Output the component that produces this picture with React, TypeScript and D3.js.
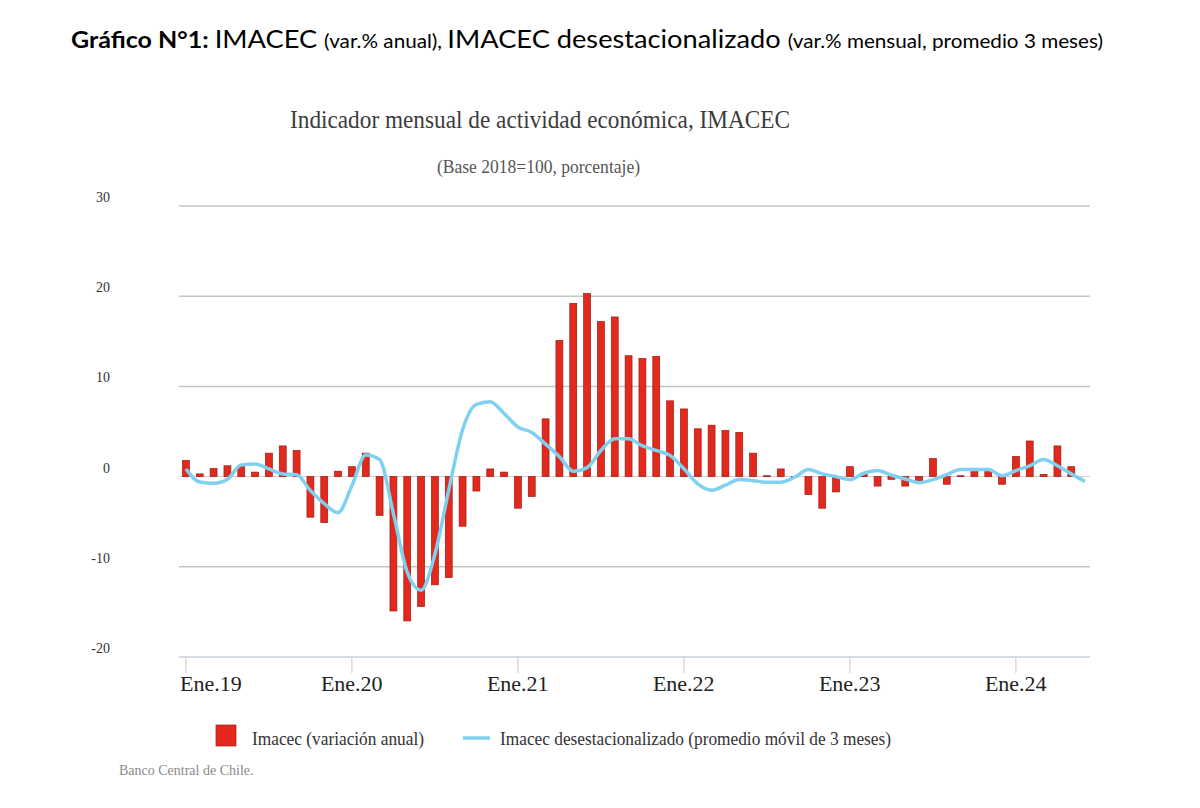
import React from "react";
import * as d3 from "d3";

// meses Ene.19 .. Jun.24
const years = ["19", "20", "21", "22", "23", "24"];
const monthNames = ["Ene", "Feb", "Mar", "Abr", "May", "Jun", "Jul", "Ago", "Sep", "Oct", "Nov", "Dic"];
const months: string[] = [];
years.forEach((yy) => monthNames.forEach((m) => months.push(`${m}.${yy}`)));
const categories = months.slice(0, 66);

// Imacec variación anual (barras)
const imacecAnual = [
  1.8, 0.3, 0.9, 1.2, 1.1, 0.5, 2.6, 3.4, 2.9, -4.5, -5.1, 0.6,
  1.1, 2.6, -4.3, -14.9, -16.0, -14.4, -12.0, -11.2, -5.5, -1.6, 0.85, 0.5,
  -3.5, -2.2, 6.4, 15.1, 19.2, 20.3, 17.2, 17.7, 13.4, 13.1, 13.3, 8.4,
  7.5, 5.3, 5.7, 5.1, 4.9, 2.6, 0.1, 0.85, -0.05, -2.0, -3.5, -1.7,
  1.1, 0.3, -1.05, -0.3, -1.05, -0.45, 2.0, -0.85, 0.1, 0.55, 0.55, -0.85,
  2.25, 3.95, 0.25, 3.4, 1.1,
];

// Imacec desestacionalizado, promedio móvil 3 meses (línea)
const imacecDesest = [
  0.85, -0.6, -0.75, -0.3, 1.3, 1.4, 0.85, 0.3, 0.2, -1.55, -3.0, -4.0,
  -1.0, 2.4, 1.9, -4.1, -10.6, -12.6, -8.6, -1.5, 5.2, 8.0, 8.3, 7.0,
  5.5, 4.9, 3.6, 2.2, 0.6, 1.0, 2.9, 4.2, 4.2, 3.4, 2.9, 2.35,
  0.86, -0.8, -1.5, -0.95, -0.33, -0.45, -0.63, -0.63, -0.07, 0.78, 0.3, 0.0,
  -0.33, 0.37, 0.67, 0.15, -0.26, -0.67, -0.33, 0.22, 0.8, 0.78, 0.78, 0.1,
  0.67, 1.2, 1.9, 1.2, 0.3, -0.55,
];

const yTicks = [30, 20, 10, 0, -10, -20];
const xTickLabels = ["Ene.19", "Ene.20", "Ene.21", "Ene.22", "Ene.23", "Ene.24"];

const serif = "'Liberation Serif', 'Times New Roman', serif";

export default function App() {
  const width = 1200;
  const height = 808;
  const left = 179;
  const right = 1092;

  const x = d3.scaleBand<string>().domain(categories).range([left, right]).paddingInner(0.5).paddingOuter(0.25);
  const cx = (c: string) => (x(c) as number) + x.bandwidth() / 2;
  const y = d3.scaleLinear().domain([-20, 30]).range([657, 206]);

  const line = d3
    .line<number>()
    .x((_, i) => cx(categories[i]))
    .y((d) => y(d))
    .curve(d3.curveMonotoneX);

  return (
    <svg
      width={width}
      height={height}
      style={{ position: "absolute", left: 0, top: 0, background: "#fff" }}
    >
      <rect width={width} height={height} fill="#fff" />

      {/* titulo superior */}
      <text x={71} y={48} textLength={1032} lengthAdjust="spacingAndGlyphs" fill="#000" style={{ fontFamily: "Lato, 'Open Sans', sans-serif" }}>
        <tspan fontWeight="bold" fontSize={23}>Gráfico N°1: </tspan>
        <tspan fontSize={25}>IMACEC </tspan>
        <tspan fontSize={19}>(var.% anual), </tspan>
        <tspan fontSize={25}>IMACEC desestacionalizado </tspan>
        <tspan fontSize={19}>(var.% mensual, promedio 3 meses)</tspan>
      </text>

      <text x={290} y={128} fontSize={25} textLength={500} lengthAdjust="spacingAndGlyphs" fill="#3c3c3c" style={{ fontFamily: serif }}>
        Indicador mensual de actividad económica, IMACEC
      </text>
      <text x={437} y={173} fontSize={19} textLength={203} lengthAdjust="spacingAndGlyphs" fill="#555" style={{ fontFamily: serif }}>
        (Base 2018=100, porcentaje)
      </text>

      {/* grilla */}
      {yTicks.map((t) => (
        <g key={t}>
          {t !== 0 && t !== -20 && (
            <line x1={left} x2={1090} y1={y(t)} y2={y(t)} stroke="#c4c4c4" strokeWidth={1.5} />
          )}
          <text x={110} y={y(t) - 4} textAnchor="end" fontSize={14} fill="#333" style={{ fontFamily: serif }}>
            {t}
          </text>
        </g>
      ))}
      <line x1={left} x2={1090} y1={y(0)} y2={y(0)} stroke="#d9c9cc" strokeWidth={1} />

      {/* barras */}
      {imacecAnual.map((v, i) => (
        <rect
          key={i}
          x={x(categories[i])}
          width={x.bandwidth()}
          y={y(Math.max(0, v))}
          height={Math.abs(y(v) - y(0))}
          fill="#e3291d"
          stroke="#9a1b12"
          strokeWidth={0.7}
        />
      ))}

      {/* linea */}
      <path d={line(imacecDesest) || ""} fill="none" stroke="#80d0ef" strokeWidth={3.5} strokeLinejoin="round" />

      {/* eje x */}
      <line x1={left} x2={1090} y1={y(-20)} y2={y(-20)} stroke="#c9d2dc" strokeWidth={1.5} />
      {xTickLabels.map((lab) => {
        const px = cx(lab);
        const w = 62;
        const tx = px - w / 2 < left ? left + 1 : px - w / 2;
        return (
          <g key={lab}>
            <line x1={px} x2={px} y1={y(-20)} y2={y(-20) + 16} stroke="#c8c8c8" strokeWidth={1} />
            <text x={tx} y={691} fontSize={22} fill="#222" style={{ fontFamily: serif }}>
              {lab}
            </text>
          </g>
        );
      })}

      {/* leyenda */}
      <rect x={216} y={725} width={20} height={21} fill="#e3291d" stroke="#9a1b12" strokeWidth={0.7} />
      <text x={252} y={745} fontSize={19} textLength={172} lengthAdjust="spacingAndGlyphs" fill="#333" style={{ fontFamily: serif }}>
        Imacec (variación anual)
      </text>
      <line x1={463} x2={490} y1={738} y2={738} stroke="#80d0ef" strokeWidth={3.5} />
      <text x={500} y={745} fontSize={19} textLength={391} lengthAdjust="spacingAndGlyphs" fill="#333" style={{ fontFamily: serif }}>
        Imacec desestacionalizado (promedio móvil de 3 meses)
      </text>

      <text x={119} y={775} fontSize={14} fill="#8a8a8a" style={{ fontFamily: serif }}>
        Banco Central de Chile.
      </text>
    </svg>
  );
}
